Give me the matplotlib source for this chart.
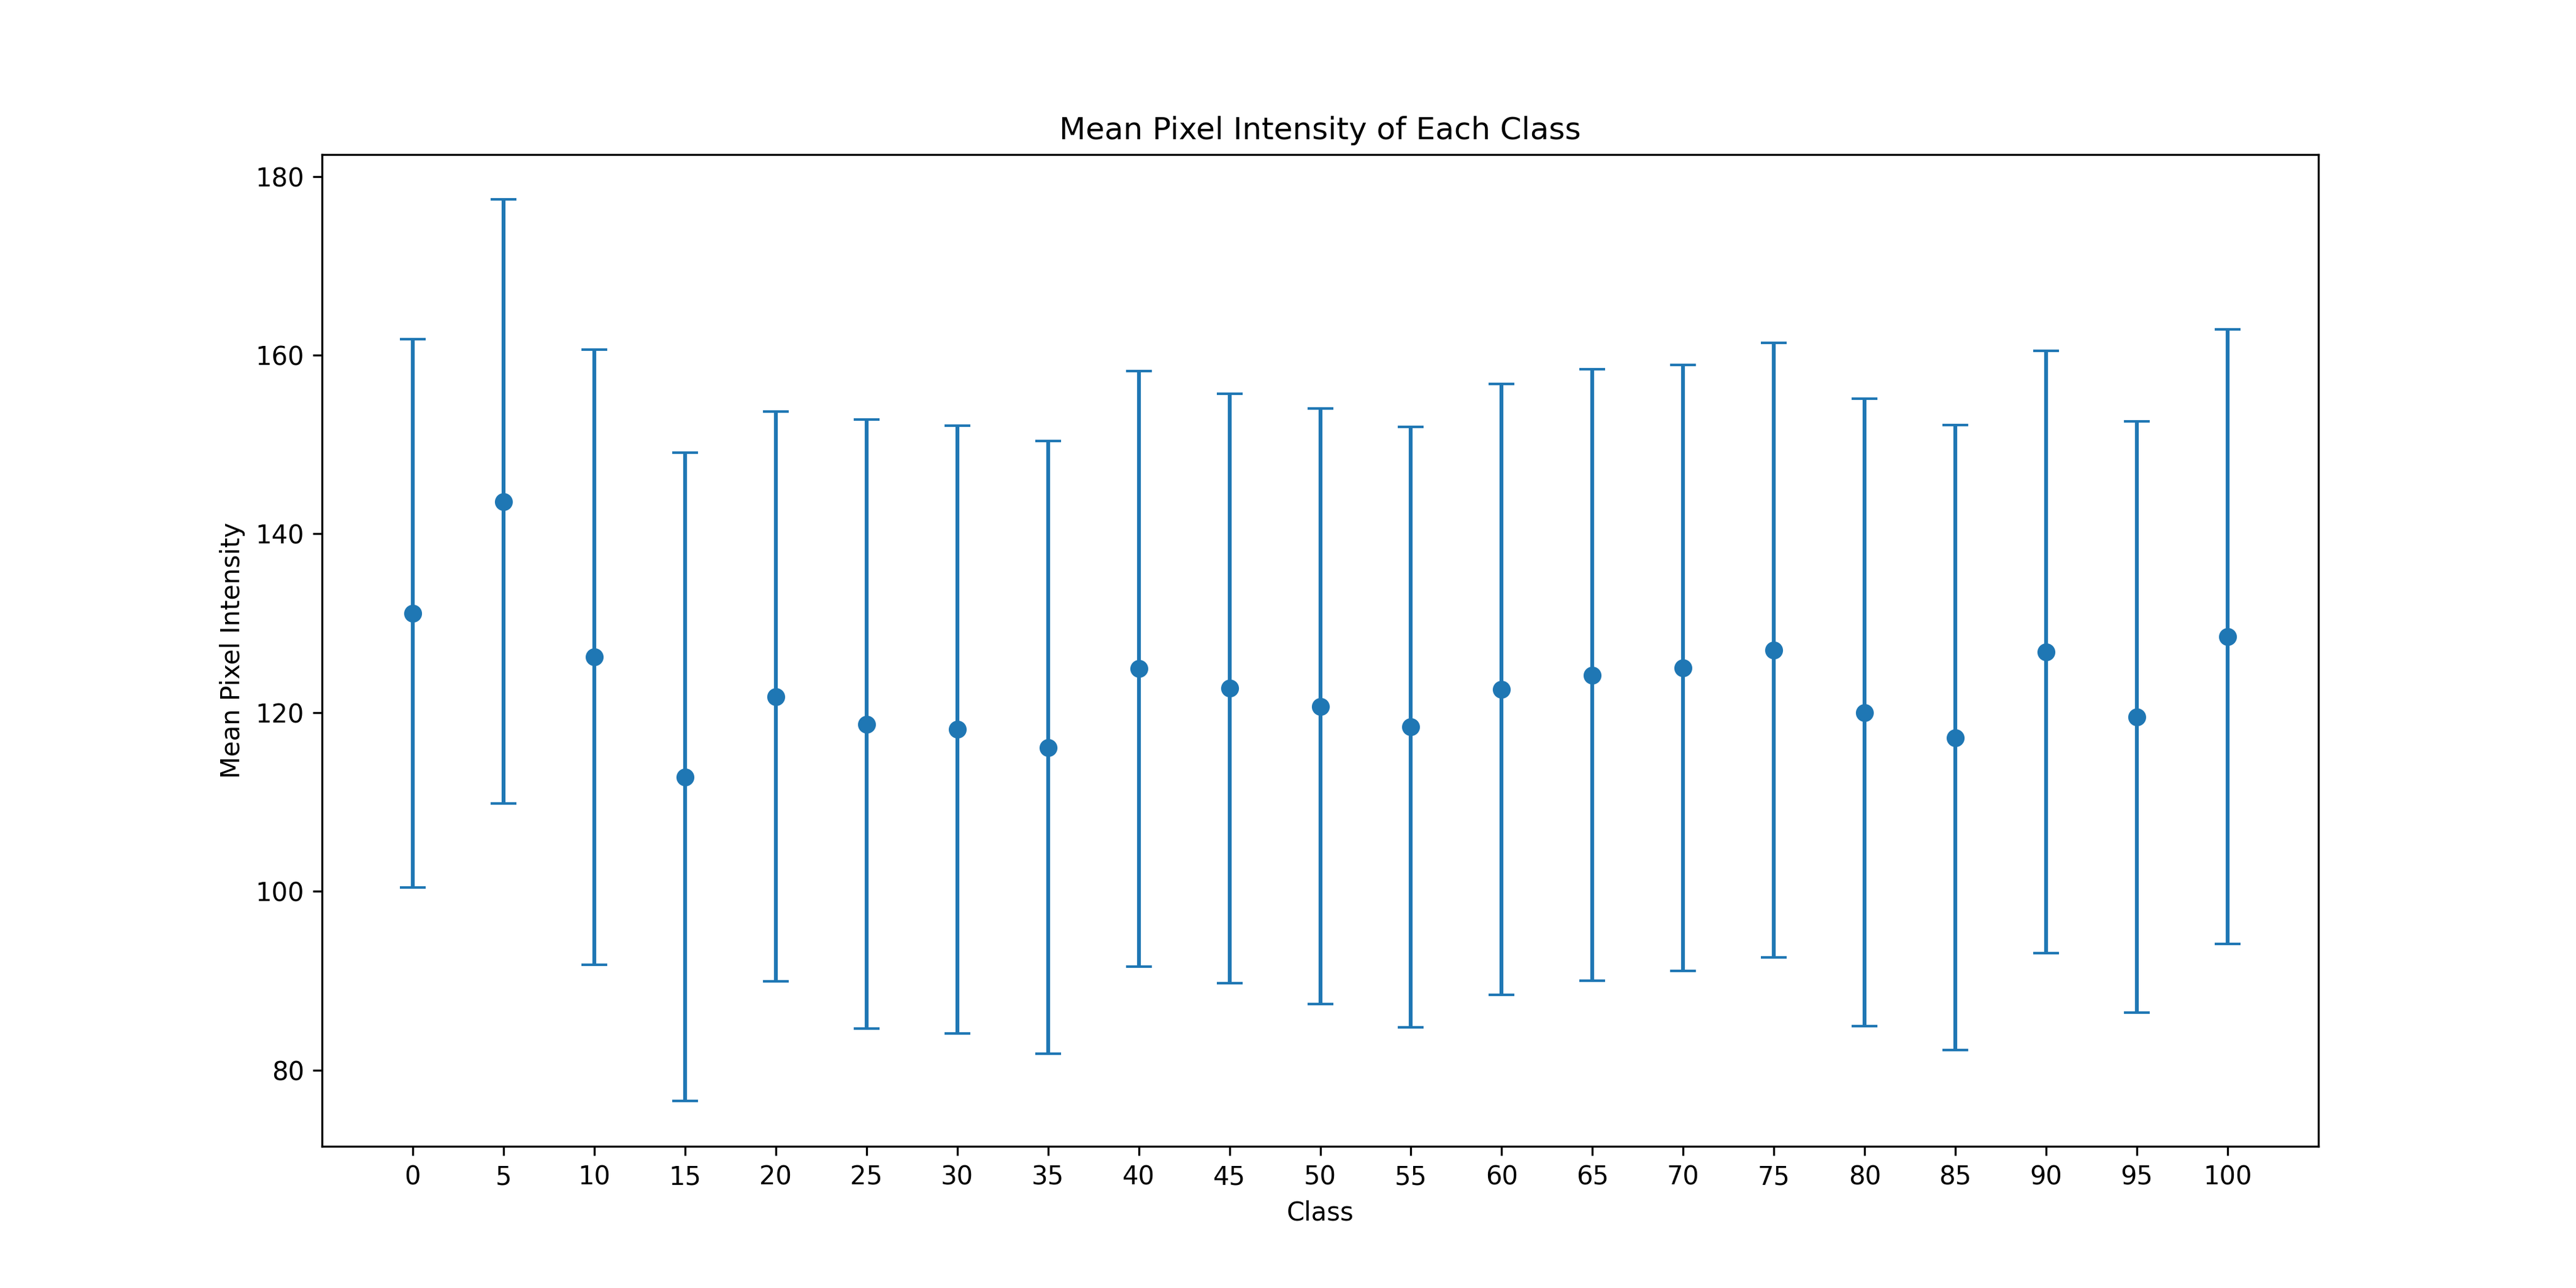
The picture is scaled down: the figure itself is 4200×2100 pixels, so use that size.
import matplotlib
matplotlib.use("Agg")
import matplotlib.pyplot as plt

classes = [0, 5, 10, 15, 20, 25, 30, 35, 40, 45, 50, 55, 60, 65, 70, 75, 80, 85, 90, 95, 100]
mean_intensity = [131.1, 143.6, 126.2, 112.8, 121.8, 118.7, 118.1, 116.1, 124.9, 122.7, 120.7,
                  118.4, 122.6, 124.2, 125.0, 127.0, 120.0, 117.2, 126.8, 119.5, 128.5]
std_intensity = [30.7, 33.8, 34.4, 36.3, 31.9, 34.1, 34.0, 34.3, 33.3, 33.0, 33.3,
                 33.6, 34.2, 34.2, 33.9, 34.4, 35.1, 35.0, 33.7, 33.1, 34.4]

fig = plt.figure(figsize=(14, 7), dpi=300)
plt.errorbar(classes, mean_intensity, yerr=std_intensity, fmt='o', capsize=5)
plt.xticks(classes)
plt.title('Mean Pixel Intensity of Each Class')
plt.xlabel('Class')
plt.ylabel('Mean Pixel Intensity')
plt.savefig('out.png')
